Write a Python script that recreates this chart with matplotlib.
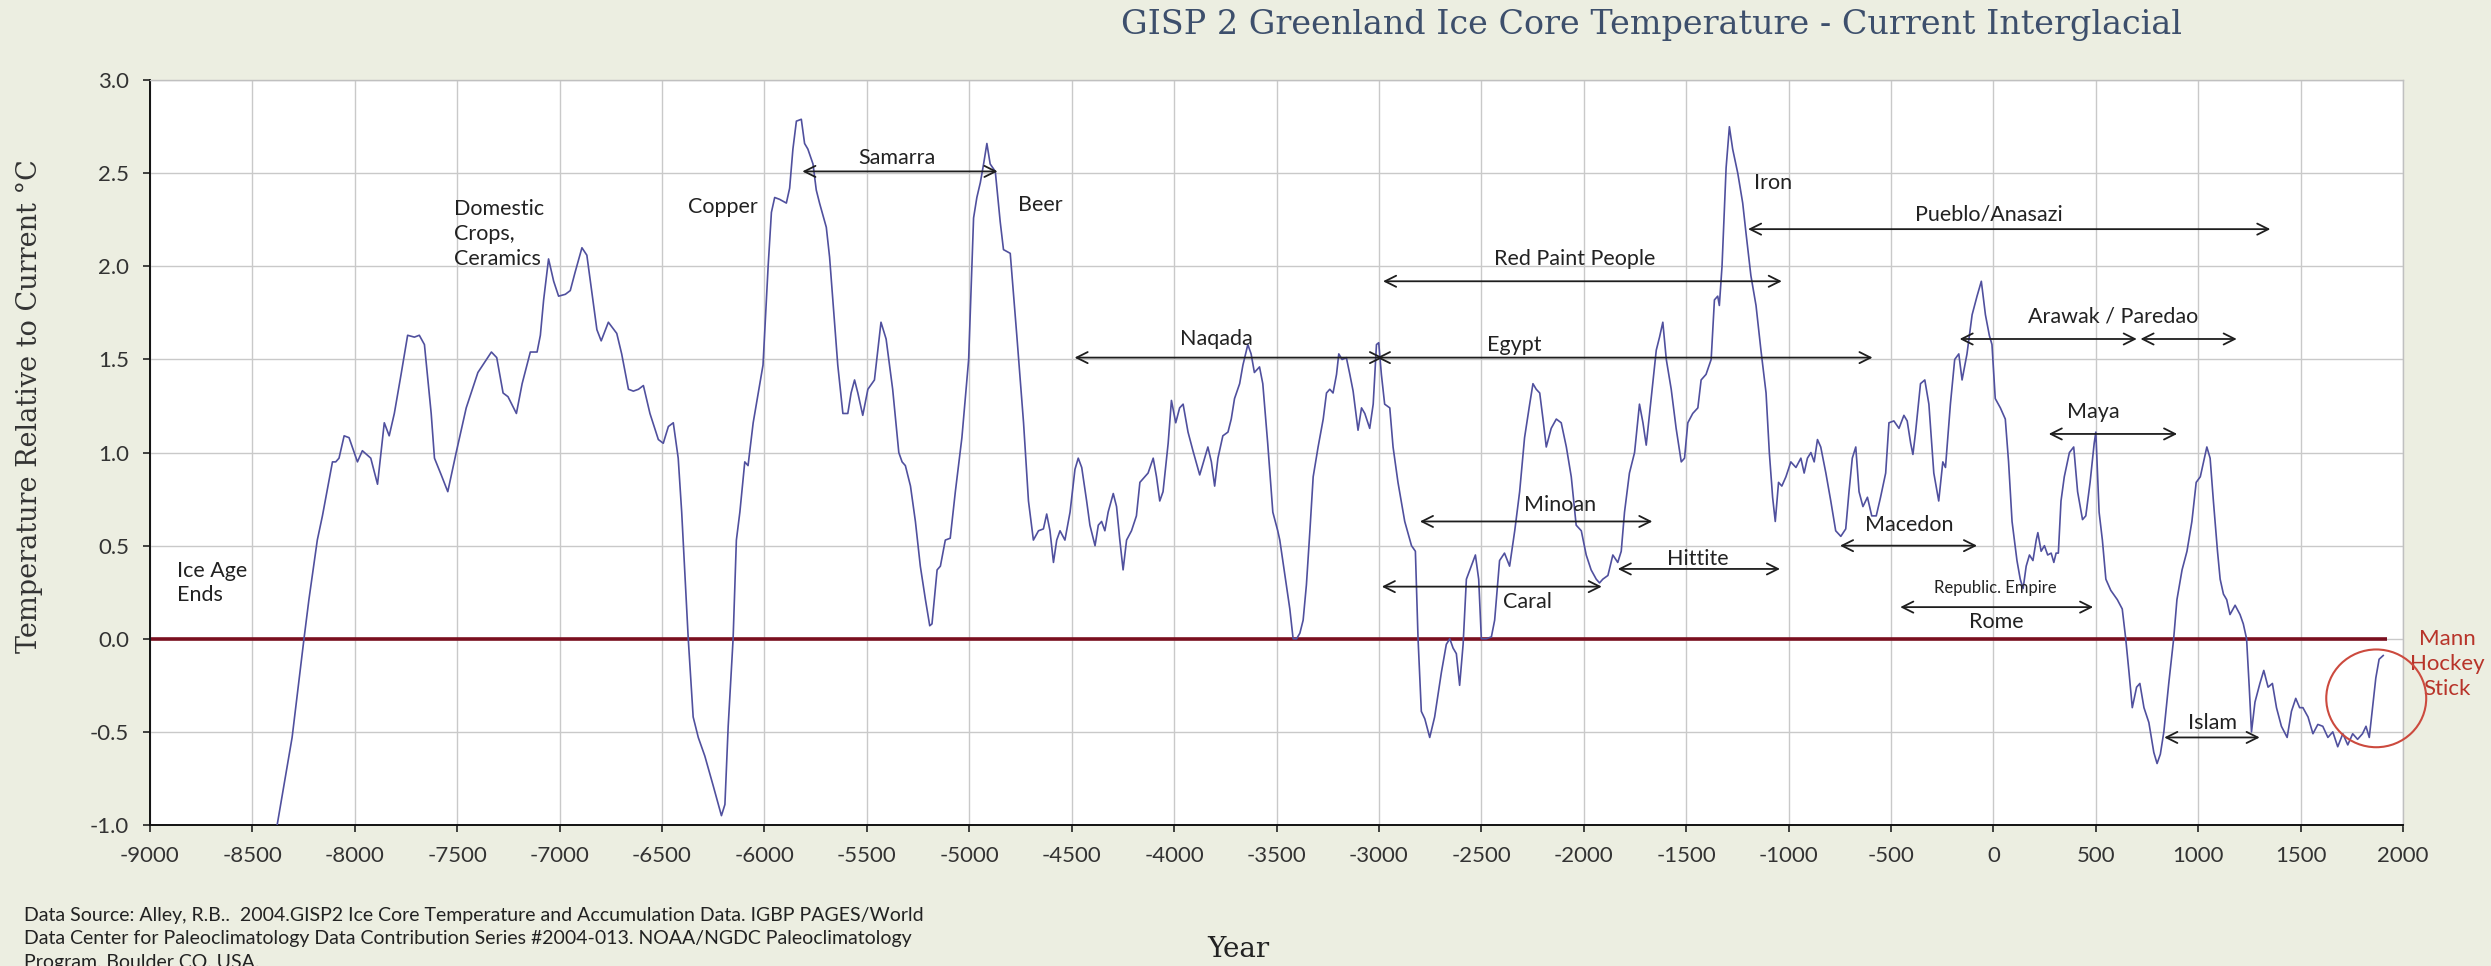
import numpy as np
import matplotlib
matplotlib.use('Agg')
from matplotlib import pyplot as plt
from matplotlib.patches import Ellipse

# GISP2 temperature relative to current
years = [-8379, -8306, -8248, -8224, -8183, -8158, -8109, -8093, -8077, -8052, -8028, -7987, -7963, -7922, -7889,
         -7856, -7832, -7807, -7774, -7742, -7709, -7685, -7660, -7627, -7611, -7578, -7546, -7505, -7456, -7399,
         -7333, -7307, -7276, -7252, -7211, -7183, -7143, -7110, -7094, -7078, -7054, -7029, -7005, -6972, -6948,
         -6924, -6891, -6867, -6818, -6797, -6762, -6721, -6697, -6664, -6640, -6615, -6591, -6559, -6518, -6494,
         -6469, -6445, -6421, -6404, -6388, -6372, -6348, -6323, -6291, -6250, -6210, -6193, -6177, -6153, -6137,
         -6120, -6096, -6080, -6055, -6007, -5982, -5966, -5950, -5926, -5893, -5877, -5861, -5844, -5820, -5804,
         -5788, -5763, -5747, -5731, -5698, -5682, -5666, -5642, -5617, -5593, -5577, -5560, -5544, -5520, -5495,
         -5463, -5431, -5406, -5374, -5344, -5328, -5312, -5287, -5263, -5239, -5214, -5193, -5182, -5157, -5141,
         -5117, -5093, -5068, -5036, -5003, -4979, -4963, -4946, -4930, -4914, -4898, -4873, -4849, -4833, -4800,
         -4768, -4735, -4711, -4687, -4662, -4638, -4622, -4606, -4589, -4573, -4557, -4533, -4508, -4484, -4468,
         -4451, -4427, -4411, -4386, -4370, -4354, -4338, -4322, -4297, -4281, -4265, -4249, -4232, -4208, -4184,
         -4167, -4143, -4127, -4102, -4086, -4070, -4054, -4029, -4013, -3992, -3973, -3956, -3932, -3908, -3875,
         -3851, -3835, -3818, -3802, -3786, -3762, -3737, -3721, -3705, -3680, -3664, -3640, -3624, -3608, -3583,
         -3567, -3543, -3518, -3494, -3484, -3459, -3435, -3419, -3402, -3386, -3370, -3354, -3337, -3321, -3297,
         -3272, -3256, -3240, -3224, -3207, -3196, -3180, -3159, -3142, -3126, -3102, -3085, -3069, -3045, -3028,
         -3012, -3001, -2988, -2972, -2947, -2931, -2907, -2874, -2841, -2822, -2809, -2793, -2776, -2752, -2728,
         -2695, -2671, -2654, -2638, -2622, -2606, -2589, -2573, -2549, -2529, -2513, -2500, -2476, -2451, -2435,
         -2411, -2387, -2362, -2337, -2313, -2289, -2264, -2248, -2232, -2215, -2199, -2183, -2159, -2134, -2110,
         -2085, -2061, -2037, -2012, -1988, -1964, -1939, -1923, -1907, -1882, -1858, -1834, -1817, -1801, -1777,
         -1752, -1728, -1711, -1695, -1670, -1646, -1630, -1614, -1597, -1573, -1549, -1524, -1508, -1492, -1468,
         -1443, -1427, -1403, -1378, -1362, -1346, -1338, -1325, -1305, -1289, -1273, -1248, -1224, -1208, -1184,
         -1159, -1135, -1110, -1094, -1078, -1065, -1049, -1033, -1013, -989, -964, -940, -924, -908, -891,
         -875, -859, -843, -818, -794, -770, -745, -721, -705, -689, -672, -656, -637, -615, -594,
         -572, -551, -526, -510, -486, -461, -437, -421, -404, -393, -380, -356, -335, -315, -291,
         -267, -247, -234, -210, -189, -169, -153, -129, -104, -80, -59, -39, -20, -7, 9,
         34, 58, 74, 91, 115, 131, 145, 160, 176, 193, 209, 217, 233, 249, 265,
         282, 295, 306, 317, 330, 346, 371, 392, 411, 435, 451, 472, 492, 500, 516,
         532, 549, 573, 605, 629, 646, 662, 678, 699, 715, 735, 759, 783, 799, 815,
         832, 856, 880, 896, 921, 945, 969, 990, 1010, 1026, 1042, 1058, 1074, 1094, 1107,
         1123, 1139, 1155, 1180, 1204, 1220, 1236, 1249, 1260, 1277, 1301, 1320, 1341, 1362, 1382,
         1406, 1434, 1455, 1476, 1495, 1511, 1536, 1560, 1584, 1608, 1633, 1657, 1681, 1706, 1730,
         1754, 1778, 1802, 1819, 1835, 1851, 1867, 1883, 1903]
temps = [-1.00, -0.53, 0.00, 0.21, 0.53, 0.66, 0.95, 0.95, 0.97, 1.09, 1.08, 0.95, 1.01, 0.97, 0.83,
         1.16, 1.09, 1.21, 1.42, 1.63, 1.62, 1.63, 1.58, 1.21, 0.97, 0.88, 0.79, 1.00, 1.24, 1.43,
         1.54, 1.51, 1.32, 1.30, 1.21, 1.37, 1.54, 1.54, 1.63, 1.82, 2.04, 1.92, 1.84, 1.85, 1.87,
         1.97, 2.10, 2.06, 1.66, 1.60, 1.70, 1.64, 1.53, 1.34, 1.33, 1.34, 1.36, 1.21, 1.07, 1.05,
         1.14, 1.16, 0.97, 0.68, 0.34, 0.00, -0.42, -0.53, -0.63, -0.79, -0.95, -0.89, -0.47, 0.00, 0.53,
         0.68, 0.95, 0.93, 1.16, 1.47, 2.00, 2.29, 2.37, 2.36, 2.34, 2.42, 2.63, 2.78, 2.79, 2.66,
         2.63, 2.55, 2.41, 2.34, 2.21, 2.05, 1.82, 1.47, 1.21, 1.21, 1.32, 1.39, 1.32, 1.20, 1.34,
         1.39, 1.70, 1.61, 1.34, 1.00, 0.95, 0.93, 0.82, 0.63, 0.39, 0.21, 0.07, 0.08, 0.37, 0.39,
         0.53, 0.54, 0.79, 1.08, 1.50, 2.26, 2.37, 2.45, 2.55, 2.66, 2.55, 2.51, 2.24, 2.09, 2.07,
         1.63, 1.16, 0.74, 0.53, 0.58, 0.59, 0.67, 0.58, 0.41, 0.53, 0.58, 0.53, 0.68, 0.91, 0.97,
         0.92, 0.74, 0.61, 0.50, 0.61, 0.63, 0.58, 0.68, 0.78, 0.71, 0.53, 0.37, 0.53, 0.58, 0.66,
         0.84, 0.87, 0.89, 0.97, 0.87, 0.74, 0.79, 1.05, 1.28, 1.16, 1.24, 1.26, 1.11, 1.01, 0.88,
         0.97, 1.03, 0.95, 0.82, 0.97, 1.09, 1.11, 1.18, 1.29, 1.37, 1.47, 1.58, 1.53, 1.43, 1.46,
         1.37, 1.05, 0.68, 0.58, 0.53, 0.34, 0.16, 0.00, 0.00, 0.03, 0.10, 0.29, 0.58, 0.87, 1.03,
         1.18, 1.32, 1.34, 1.32, 1.42, 1.53, 1.50, 1.51, 1.42, 1.33, 1.12, 1.24, 1.21, 1.13, 1.26,
         1.58, 1.59, 1.42, 1.26, 1.24, 1.03, 0.84, 0.63, 0.50, 0.47, 0.00, -0.39, -0.43, -0.53, -0.42,
         -0.18, -0.03, 0.00, -0.05, -0.08, -0.25, -0.03, 0.32, 0.39, 0.45, 0.32, 0.00, 0.00, 0.01, 0.10,
         0.42, 0.46, 0.39, 0.58, 0.79, 1.08, 1.26, 1.37, 1.34, 1.32, 1.18, 1.03, 1.13, 1.18, 1.16,
         1.03, 0.87, 0.61, 0.58, 0.45, 0.37, 0.32, 0.30, 0.32, 0.34, 0.45, 0.41, 0.47, 0.68, 0.89,
         1.00, 1.26, 1.16, 1.04, 1.30, 1.55, 1.62, 1.70, 1.50, 1.34, 1.13, 0.95, 0.97, 1.16, 1.21,
         1.24, 1.39, 1.42, 1.50, 1.82, 1.84, 1.79, 2.00, 2.53, 2.75, 2.63, 2.50, 2.34, 2.18, 1.95,
         1.79, 1.55, 1.32, 1.00, 0.76, 0.63, 0.84, 0.82, 0.87, 0.95, 0.92, 0.97, 0.89, 0.97, 1.00,
         0.95, 1.07, 1.03, 0.89, 0.74, 0.58, 0.55, 0.59, 0.79, 0.97, 1.03, 0.79, 0.71, 0.76, 0.66,
         0.66, 0.76, 0.89, 1.16, 1.17, 1.13, 1.20, 1.17, 1.05, 0.99, 1.11, 1.37, 1.39, 1.26, 0.89,
         0.74, 0.95, 0.92, 1.26, 1.50, 1.53, 1.39, 1.53, 1.74, 1.84, 1.92, 1.74, 1.63, 1.58, 1.29,
         1.24, 1.18, 0.95, 0.63, 0.42, 0.32, 0.27, 0.39, 0.45, 0.42, 0.53, 0.57, 0.47, 0.50, 0.45,
         0.46, 0.41, 0.46, 0.46, 0.74, 0.87, 1.00, 1.03, 0.79, 0.64, 0.66, 0.84, 1.05, 1.11, 0.68,
         0.53, 0.32, 0.26, 0.21, 0.16, 0.00, -0.18, -0.37, -0.26, -0.24, -0.37, -0.45, -0.61, -0.67, -0.62,
         -0.50, -0.24, 0.00, 0.21, 0.37, 0.47, 0.63, 0.84, 0.87, 0.95, 1.03, 0.97, 0.74, 0.47, 0.32,
         0.24, 0.21, 0.13, 0.18, 0.13, 0.08, 0.00, -0.26, -0.50, -0.34, -0.24, -0.17, -0.26, -0.24, -0.37,
         -0.47, -0.53, -0.39, -0.32, -0.37, -0.37, -0.42, -0.51, -0.46, -0.47, -0.53, -0.50, -0.58, -0.51, -0.57,
         -0.51, -0.54, -0.51, -0.47, -0.53, -0.37, -0.21, -0.11, -0.09]

# reference (current) level
zero_span = [-9000, 1920]

# periods shown as double arrows: name, start year, end year
periods = ['Samarra', 'Naqada', 'Egypt', 'Red Paint People', 'Pueblo/Anasazi', 'Arawak', 'Paredao',
           'Maya', 'Minoan', 'Caral', 'Hittite', 'Macedon', 'Rome', 'Islam']
period_start = [-5815, -4486, -3010, -2980, -1198, -165, 718, 270, -2800, -2986, -1834, -749, -455, 834]
period_end = [-4862, -2980, -590, -1033, 1352, 700, 1188, 897, -1665, -1912, -1042, -80, 487, 1300]

xticks = list(range(-9000, 2001, 500))
yticks = [-1.0, -0.5, 0.0, 0.5, 1.0, 1.5, 2.0, 2.5, 3.0]

# layout of the arrows (level) and the labels
arrow_level = [2.51, 1.51, 1.51, 1.92, 2.20, 1.61, 1.61, 1.10, 0.63, 0.28, 0.375, 0.50, 0.17, -0.53]
labels = [('Samarra', -5355, 2.58, 'center'), ('Naqada', -3792, 1.61, 'center'),
          ('Egypt', -2341, 1.58, 'center'), ('Red Paint People', -2043, 2.04, 'center'),
          ('Pueblo/Anasazi', -21, 2.28, 'center'), ('Arawak / Paredao', 585, 1.73, 'center'),
          ('Maya', 487, 1.22, 'center'), ('Minoan', -2117, 0.72, 'center'),
          ('Caral', -2273, 0.20, 'center'), ('Hittite', -1442, 0.43, 'center'),
          ('Macedon', -412, 0.61, 'center'), ('Rome', 12, 0.09, 'center'),
          ('Islam', 1069, -0.45, 'center'),
          ('Ice Age\nEnds', -8868, 0.30, 'left'), ('Domestic\nCrops,\nCeramics', -7515, 2.175, 'left'),
          ('Copper', -6372, 2.32, 'left'), ('Beer', -4760, 2.33, 'left'), ('Iron', -1169, 2.45, 'left')]

sans = ['Lato', 'DejaVu Sans']
serif = ['DejaVu Serif']
bg = '#ECEEE1'

fig = plt.figure(figsize=(24.91, 9.66), dpi=100, facecolor=bg)
ax = fig.add_axes([0.0602, 0.146, 0.9045, 0.771])
ax.set_facecolor('white')

ax.hlines(0, zero_span[0], zero_span[1], color='#7A0F1F', lw=2.6, zorder=2)
ax.plot(years, temps, color='#50509E', lw=1.2, zorder=3)

for i in range(len(periods)):
    ax.annotate('', xy=(period_end[i], arrow_level[i]), xytext=(period_start[i], arrow_level[i]),
                arrowprops=dict(arrowstyle='<->', color='#1E1E1E', lw=1.3,
                                shrinkA=0, shrinkB=0, mutation_scale=20), zorder=4)

for txt, x, y, ha in labels:
    ax.text(x, y, txt, ha=ha, va='center', fontsize=15.5, family=sans, color='#222222',
            linespacing=1.3, zorder=5)
ax.text(8, 0.27, 'Republic. Empire', ha='center', va='center', fontsize=12, family=sans,
        color='#222222', zorder=5)

# Mann hockey stick marker
ax.add_patch(Ellipse((1869, -0.32), 488, 0.525, fill=False, edgecolor='#CC4A3E', lw=1.5,
                     clip_on=False, zorder=6))
ax.text(2215, -0.135, 'Mann\nHockey\nStick', ha='center', va='center', fontsize=16, family=sans,
        color='#B8342A', linespacing=1.3, clip_on=False)

ax.set_xlim(-9000, 2000)
ax.set_ylim(-1.0, 3.0)
ax.set_xticks(xticks)
ax.set_xticklabels([str(t) for t in xticks])
ax.set_yticks(yticks)
ax.set_yticklabels(['%.1f' % t for t in yticks])
ax.grid(True, color='#C9C9C9', lw=1.0)
ax.set_axisbelow(True)
ax.tick_params(axis='both', direction='out', length=5, width=1.2, color='#222222',
               labelsize=16, labelcolor='#333333', pad=10)
for lab in ax.get_xticklabels() + ax.get_yticklabels():
    lab.set_family(sans)
for s in ['left', 'bottom']:
    ax.spines[s].set_color('#111111')
    ax.spines[s].set_linewidth(1.4)
for s in ['top', 'right']:
    ax.spines[s].set_color('#C0C0C0')
    ax.spines[s].set_linewidth(1.0)

fig.text(0.663, 0.974, 'GISP 2 Greenland Ice Core Temperature - Current Interglacial', ha='center',
         va='center', fontsize=24, family=serif, color='#3D4F6C')
fig.text(0.012, 0.58, 'Temperature Relative to Current \u00b0C', rotation=90, ha='center', va='center',
         fontsize=19.5, family=serif, color='#333333')
fig.text(0.497, 0.017, 'Year', ha='center', va='center', fontsize=20, family=serif, color='#222222')
fig.text(0.0096, 0.061, 'Data Source: Alley, R.B..  2004.GISP2 Ice Core Temperature and Accumulation Data. '
         'IGBP PAGES/World\nData Center for Paleoclimatology Data Contribution Series #2004-013. '
         'NOAA/NGDC Paleoclimatology\nProgram, Boulder CO, USA.', ha='left', va='top', fontsize=14,
         family=sans, color='#222222', linespacing=1.45)

fig.savefig('out.png', dpi=100, facecolor=bg)
